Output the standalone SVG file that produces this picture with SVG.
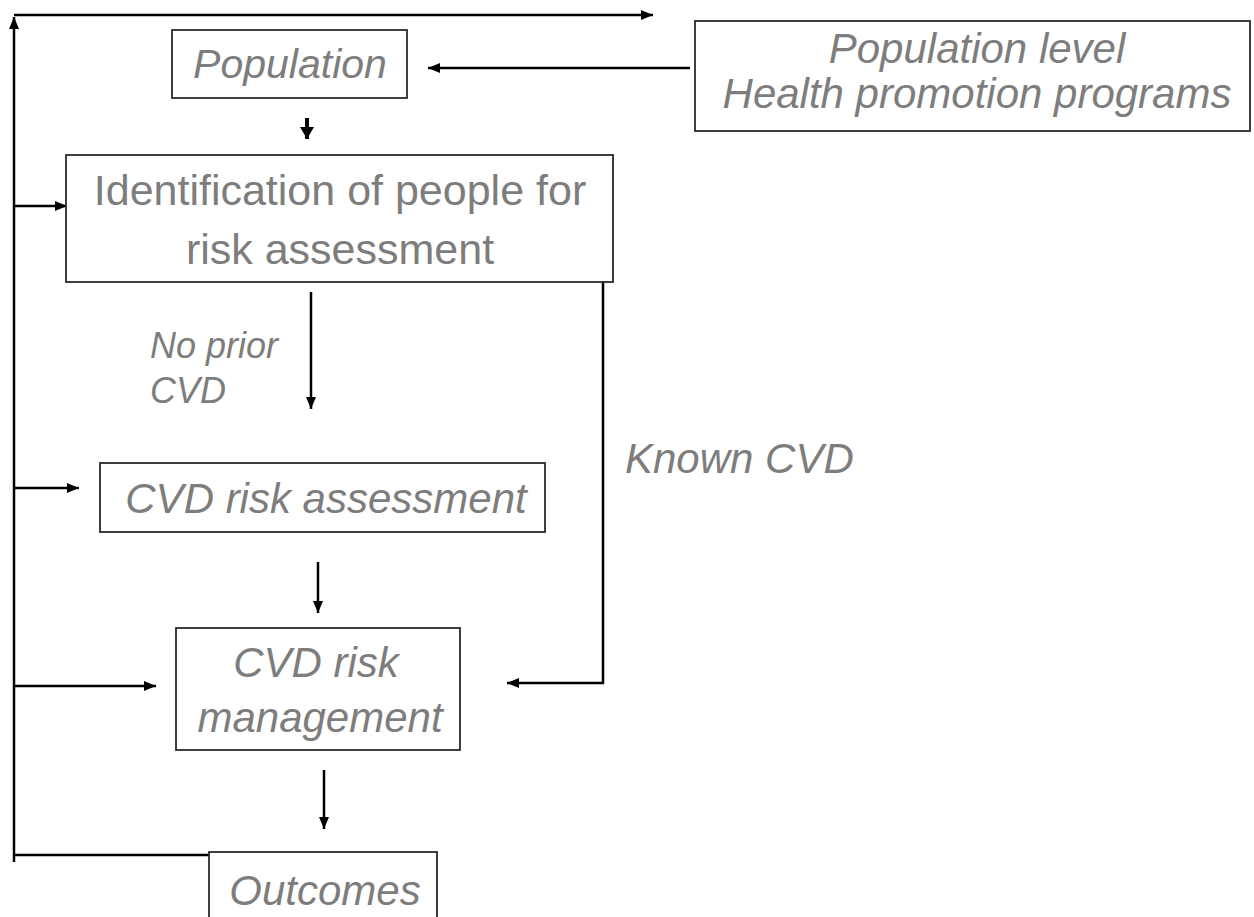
<svg xmlns="http://www.w3.org/2000/svg" width="1254" height="917" viewBox="0 0 1254 917">
<style>
.box{fill:#fff;stroke:#2a2a2a;stroke-width:1.8}
.t{font-family:"Liberation Sans",Arial,sans-serif;fill:#7d7d7d;font-size:42px;text-anchor:middle}
.i{font-style:italic}
.s{text-anchor:start}
.f36{font-size:36px}
.f41{font-size:41px}
.f42{font-size:42px}
.f43{font-size:43px}
.c{fill:none;stroke:#000;stroke-width:2.5}
</style>
<defs>
<marker id="ah" viewBox="0 0 12 10" refX="12" refY="5" markerWidth="12" markerHeight="10" orient="auto" markerUnits="userSpaceOnUse">
<path d="M0,0 L12,5 L0,10 z" fill="#000"/>
</marker>
<marker id="ahb" viewBox="0 0 12 14" refX="12" refY="7" markerWidth="12" markerHeight="14" orient="auto" markerUnits="userSpaceOnUse">
<path d="M0,0 L12,7 L0,14 z" fill="#000"/>
</marker>
</defs>
<rect width="1254" height="917" fill="#fff"/>
<g id="connectors">
<path class="c" d="M14,862 V17" marker-end="url(#ah)"/>
<path class="c" d="M14,15 H653" marker-end="url(#ah)"/>
<path class="c" d="M690,68 H428" marker-end="url(#ah)"/>
<path class="c" d="M307,118 V139" style="stroke-width:4" marker-end="url(#ahb)"/>
<path class="c" d="M14,206 H67" marker-end="url(#ah)"/>
<path class="c" d="M311,292 V409" marker-end="url(#ah)"/>
<path class="c" d="M603,282 V683 H507" marker-end="url(#ah)"/>
<path class="c" d="M14,488 H79" marker-end="url(#ah)"/>
<path class="c" d="M318,562 V613" marker-end="url(#ah)"/>
<path class="c" d="M14,686 H156" marker-end="url(#ah)"/>
<path class="c" d="M324,770 V829" marker-end="url(#ah)"/>
<path class="c" d="M14,855 H209"/>
</g>
<g id="population">
<rect class="box" x="172" y="30" width="235" height="68"/>
<text class="t i f41" x="290" y="78">Population</text>
</g>
<g id="health-promotion">
<rect class="box" x="695" y="21" width="555" height="110"/>
<text class="t i" x="977" y="63">Population level</text>
<text class="t i" x="977" y="108">Health promotion programs</text>
</g>
<g id="identification">
<rect class="box" x="66" y="155" width="547" height="127"/>
<text class="t f43" x="340" y="205">Identification of people for</text>
<text class="t f43" x="340" y="264">risk assessment</text>
</g>
<g id="label-no-prior">
<text class="t i s f36" x="150" y="358">No prior</text>
<text class="t i s f36" x="150" y="403">CVD</text>
</g>
<g id="label-known">
<text class="t i s f42" x="625" y="473">Known CVD</text>
</g>
<g id="risk-assessment">
<rect class="box" x="100" y="463" width="445" height="69"/>
<text class="t i" x="326" y="513">CVD risk assessment</text>
</g>
<g id="risk-management">
<rect class="box" x="176" y="628" width="284" height="122"/>
<text class="t i" x="316" y="677">CVD risk</text>
<text class="t i" x="320" y="732">management</text>
</g>
<g id="outcomes">
<rect class="box" x="209" y="852" width="228" height="80"/>
<text class="t i" x="325" y="905">Outcomes</text>
</g>
</svg>
